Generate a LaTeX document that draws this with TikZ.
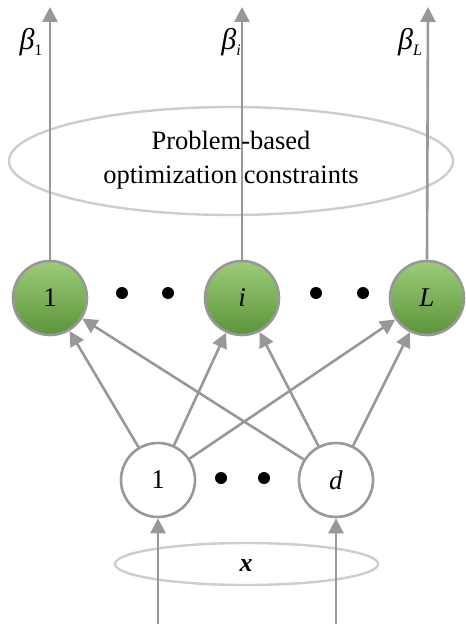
\documentclass[tikz,border=0pt]{standalone}
\usepackage{fontspec}
\setmainfont{Liberation Serif}
\usetikzlibrary{arrows.meta,shapes.geometric}
\definecolor{lgray}{RGB}{152,152,152}
\definecolor{egray}{RGB}{205,205,205}
\definecolor{gtop}{RGB}{156,204,122}
\definecolor{gbot}{RGB}{92,148,58}
\newcommand{\betalab}[1]{\textit{β}\raisebox{-6pt}{\fontsize{16}{18}\selectfont #1}}
\tikzset{
  unit/.style={circle, draw=lgray, line width=2.6pt, minimum size=74pt, inner sep=0pt, font=\fontsize{27}{29}\selectfont},
  hid/.style={unit, top color=gtop, bottom color=gbot},
  inp/.style={unit, fill=white},
  conn/.style={draw=lgray, line width=2.6pt, -{Triangle[length=15pt,width=15pt]}},
  dotn/.style={circle, fill=black, inner sep=0pt, minimum size=12pt},
  oval/.style={ellipse, draw=egray, line width=2.4pt, inner sep=0pt},
  lab/.style={font=\fontsize{26}{28}\selectfont, inner sep=0pt}
}
\begin{document}
\begin{tikzpicture}[x=1pt,y=-1pt]
\useasboundingbox (0,0) rectangle (465,628);
% top ellipse
\node[oval, minimum width=444pt, minimum height=108pt] (cons) at (231,161) {};
% hidden nodes
\node[hid] (h1) at (50,298) {1};
\node[hid] (hi) at (242,298) {\textit{i}};
\node[hid] (hL) at (427,298) {\textit{L}};
% output arrow ends
\coordinate (o1) at (50,7);
\coordinate (oi) at (242,7);
\coordinate (oL) at (428,7);
\draw[conn] (h1.north) -- (o1);
\draw[conn] (hi.north) -- (oi);
\draw[conn] (hL.north) -- (oL);
% cons text
\node[lab, align=center, font=\fontsize{26.5}{34}\selectfont] (constext) at (231,160) {Problem-based\\optimization constraints};
% beta labels
\node[lab, font=\fontsize{30}{32}\selectfont] (b1) at (31,42) {\betalab{1}};
\node[lab, font=\fontsize{30}{32}\selectfont] (bi) at (231,42) {\betalab{\textit{i}}};
\node[lab, font=\fontsize{30}{32}\selectfont] (bL) at (410,42) {\betalab{\textit{L}}};
% dots hidden
\node[dotn] (d1) at (122,293) {};
\node[dotn] (d2) at (168,293) {};
\node[dotn] (d3) at (316,293) {};
\node[dotn] (d4) at (363,293) {};
% input nodes
\node[inp] (x1) at (158,480) {1};
\node[inp] (xd) at (336,480) {\textit{d}};
\node[dotn] (d5) at (221,478) {};
\node[dotn] (d6) at (264,478) {};
% connections
\foreach \s in {x1,xd}{
  \foreach \t in {h1,hi,hL}{
    \draw[conn] (\s) -- (\t);
  }
}
% bottom ellipse
\node[oval, minimum width=263pt, minimum height=42pt] (xin) at (246.5,564) {};
\node[lab] (xlab) at (246,566) {\textbf{\textit{x}}};
\coordinate (i1) at (158,624);
\coordinate (id) at (336,624);
\draw[conn] (i1) -- (x1.south);
\draw[conn] (id) -- (xd.south);
\end{tikzpicture}
\end{document}
